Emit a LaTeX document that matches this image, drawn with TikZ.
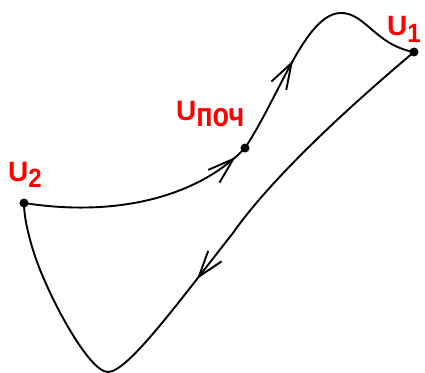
\documentclass[tikz,border=0pt]{standalone}
\usepackage{fontspec}
\setmainfont{Liberation Sans}
\usetikzlibrary{arrows.meta,decorations.markings}
\newcommand{\subtxt}[2]{\raisebox{#1}{\fontsize{24}{24}\selectfont\scalebox{1}[1.1]{#2}}}
\begin{document}
\begin{tikzpicture}[x=1pt,y=-1pt,
  curve/.style={line width=1.9pt, draw=black},
  dot/.style={circle, fill=black, inner sep=0pt, minimum size=9pt},
  lbl/.style={text=red, font=\fontsize{28}{28}\selectfont\bfseries, inner sep=0pt, anchor=base west},
  barb/.style={decoration={markings, mark=at position #1 with {\arrow{Straight Barb[length=26pt,width=17pt]}}}, postaction={decorate}}
]
\useasboundingbox (0,0) rectangle (425,372);
\clip (0,0) rectangle (425,372);
\node[dot] (u1) at (414,52) {};
\node[dot] (u0) at (245,148) {};
\node[dot] (u2) at (24,203) {};
\coordinate (top) at (340,13);
\coordinate (mid) at (233,233);
\coordinate (bot) at (108,372);
\coordinate (lft) at (33,250);
\draw[curve, barb=100pt] (u0.center) .. controls (280,95) and (305,15) .. (top) .. controls (365,12) and (375,45) .. (u1.center);
\draw[curve, barb=315pt] (u1.center) .. controls (345,110) and (270,180) .. (mid) .. controls (180,300) and (128,372) .. (bot) .. controls (88,372) and (45,290) .. (lft) .. controls (27,230) and (24,215) .. (u2.center);
\draw[curve, barb=-13pt] (u2.center) .. controls (120,218) and (200,195) .. (u0.center);
\node[lbl] (l1) at (387,35) {U\subtxt{-7pt}{1}};
\node[lbl] (l0) at (176,120) {U\raisebox{-6pt}{\fontsize{27}{27}\selectfont\scalebox{1}[1.25]{поч}}};
\node[lbl] (l2) at (8,181) {U\subtxt{-6pt}{2}};
\end{tikzpicture}
\end{document}
